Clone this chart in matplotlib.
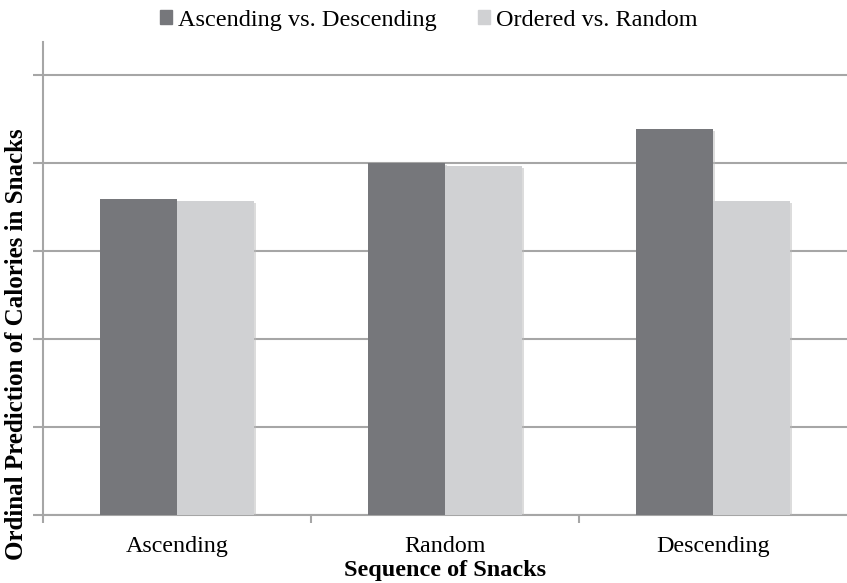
import numpy as np
import matplotlib
matplotlib.use("Agg")
import matplotlib.pyplot as plt
import matplotlib.patheffects as pe
from matplotlib.patches import Patch

# values (no y tick labels in the original)
categories = ["Ascending", "Random", "Descending"]
asc_vs_desc = [3.59, 4.00, 4.39]
ordered_vs_random = [3.57, 3.97, 3.57]
series_names = ["Ascending vs. Descending", "Ordered vs. Random"]
colors = ['#76777b', '#d0d1d3']

plt.rcParams['font.family'] = ['Liberation Serif', 'DejaVu Serif']

fig = plt.figure(figsize=(8.47, 5.83), dpi=100)
ax = fig.add_axes([43 / 847, 1 - 515 / 583, 804 / 847, (515 - 42) / 583])

x = np.arange(len(categories))
w = 0.2875
shadow = [pe.SimplePatchShadow(offset=(1.5, -1.5), shadow_rgbFace='#bbbbbb', alpha=0.5), pe.Normal()]
b1 = ax.bar(x - w / 2, asc_vs_desc, w, color=colors[0], zorder=3)
b2 = ax.bar(x + w / 2, ordered_vs_random, w, color=colors[1], zorder=3)
for bar in list(b1) + list(b2):
    bar.set_path_effects(shadow)

ax.set_xlim(-0.5, 2.5)
ax.set_ylim(0, 5.375)
ax.set_yticks([0, 1, 2, 3, 4, 5])
ax.set_yticklabels([])
ax.yaxis.grid(True, color='#a6a6a6', linewidth=1.5, zorder=0)
ax.set_axisbelow(True)

ax.set_xticks(x)
ax.set_xticklabels(categories, fontsize=17.3)
ax.set_xticks([-0.5, 0.5, 1.5], minor=True)
ax.tick_params(axis='x', which='major', length=0, pad=15)
ax.tick_params(axis='x', which='minor', length=6, color='#a6a6a6', width=1.5)
ax.tick_params(axis='y', length=7, color='#a6a6a6', width=1.5)

for s in ['top', 'right']:
    ax.spines[s].set_visible(False)
for s in ['left', 'bottom']:
    ax.spines[s].set_color('#a6a6a6')
    ax.spines[s].set_linewidth(1.5)

ax.set_xlabel("Sequence of Snacks", fontsize=17.5, fontweight='bold', labelpad=2)
fig.text(17 / 847, 1 - 344 / 583, "Ordinal Prediction of Calories in Snacks", rotation=90,
         fontsize=18, fontweight='bold', ha='center', va='center')

handles = [Patch(color=c) for c in colors]
fig.legend(handles=handles, labels=series_names, loc='upper center', bbox_to_anchor=(429 / 847, 1.021),
           ncol=2, frameon=False, fontsize=17.5, handlelength=0.5, handleheight=0.5,
           handletextpad=0.25, columnspacing=1.7)

fig.savefig("out.png", dpi=100)
